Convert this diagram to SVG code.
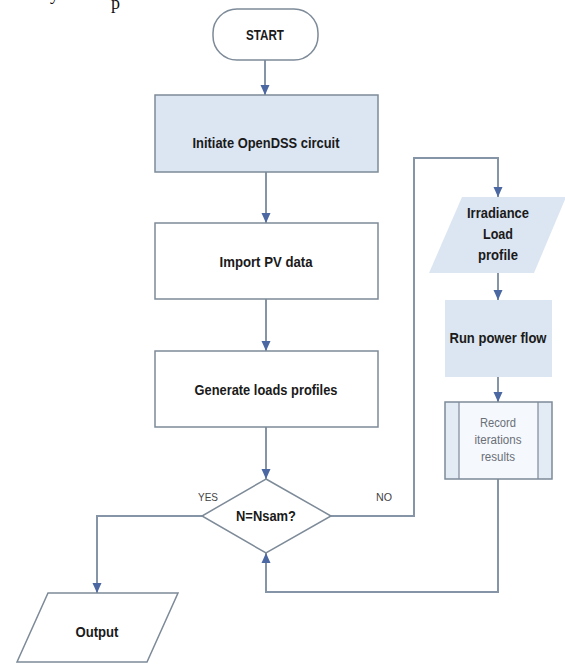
<svg xmlns="http://www.w3.org/2000/svg" width="565" height="671" viewBox="0 0 565 671">
  <style>
    .box { stroke: #7d8a98; stroke-width: 1.5; fill: #ffffff; }
    .blue { fill: #dce6f2; }
    .edge { fill: none; stroke: #8594a6; stroke-width: 2; }
    .lbl { font-family: "Liberation Sans", Arial, sans-serif; font-weight: bold; font-size: 15px; fill: #1a1a1a; text-anchor: middle; }
    .small { font-family: "Liberation Sans", Arial, sans-serif; font-size: 11px; fill: #444; text-anchor: middle; }
    .note { font-family: "Liberation Sans", Arial, sans-serif; font-size: 12px; fill: #6a6f78; text-anchor: middle; }
    .serif { font-family: "Liberation Serif", "Times New Roman", serif; font-size: 18px; fill: #111; }
  </style>
  <defs>
    <marker id="arrow" markerUnits="userSpaceOnUse" markerWidth="10" markerHeight="10" refX="10" refY="5" orient="auto">
      <path d="M0,0.5 L10,5 L0,9.5 z" fill="#4c68a3"/>
    </marker>
  </defs>

  <rect width="565" height="671" fill="#ffffff"/>

  <!-- tail of the preceding text line -->
  <g id="page-text">
    <text class="serif" x="50" y="0">y</text>
    <text class="serif" x="111" y="9">p</text>
  </g>

  <!-- connectors -->
  <g id="connectors">
    <line class="edge" x1="265" y1="60" x2="265" y2="95" marker-end="url(#arrow)"/>
    <line class="edge" x1="266" y1="172" x2="266" y2="223" marker-end="url(#arrow)"/>
    <line class="edge" x1="266" y1="299" x2="266" y2="351" marker-end="url(#arrow)"/>
    <line class="edge" x1="266" y1="427" x2="266" y2="479" marker-end="url(#arrow)"/>
    <!-- YES branch -->
    <polyline class="edge" points="202,516 97,516 97,593" marker-end="url(#arrow)"/>
    <!-- NO branch -->
    <polyline class="edge" points="331,516 414,516 414,158 498,158 498,197" marker-end="url(#arrow)"/>
    <line class="edge" x1="498" y1="273" x2="498" y2="300" marker-end="url(#arrow)"/>
    <line class="edge" x1="498" y1="377" x2="498" y2="402" marker-end="url(#arrow)"/>
    <!-- loop back to decision -->
    <polyline class="edge" points="498,479 498,592 266,592 266,553" marker-end="url(#arrow)"/>
  </g>

  <g id="start">
    <rect class="box" x="213" y="9" width="105" height="51" rx="24" ry="24"/>
    <text class="lbl" x="265" y="40" textLength="38" lengthAdjust="spacingAndGlyphs">START</text>
  </g>

  <g id="init-circuit">
    <rect class="box blue" x="155" y="95" width="223" height="77"/>
    <text class="lbl" x="266" y="148" textLength="147" lengthAdjust="spacingAndGlyphs">Initiate OpenDSS circuit</text>
  </g>

  <g id="import-pv">
    <rect class="box" x="155" y="223" width="223" height="76"/>
    <text class="lbl" x="266" y="267" textLength="93" lengthAdjust="spacingAndGlyphs">Import PV data</text>
  </g>

  <g id="gen-loads">
    <rect class="box" x="155" y="351" width="223" height="76"/>
    <text class="lbl" x="266" y="395" textLength="143" lengthAdjust="spacingAndGlyphs">Generate loads profiles</text>
  </g>

  <g id="decision">
    <polygon class="box" points="266,479 331,516 266,553 202,516"/>
    <text class="lbl" x="266" y="521" textLength="60" lengthAdjust="spacingAndGlyphs">N=Nsam?</text>
    <text class="small" x="208" y="501" textLength="20" lengthAdjust="spacingAndGlyphs">YES</text>
    <text class="small" x="384" y="501" textLength="16" lengthAdjust="spacingAndGlyphs">NO</text>
  </g>

  <g id="output">
    <polygon class="box" points="48,593 178,593 147,662 17,662"/>
    <text class="lbl" x="97" y="637" textLength="43" lengthAdjust="spacingAndGlyphs">Output</text>
  </g>

  <g id="irradiance">
    <polygon class="blue" points="462,197 566,197 534,273 429,273"/>
    <text class="lbl" x="498" y="218" textLength="62" lengthAdjust="spacingAndGlyphs">Irradiance</text>
    <text class="lbl" x="498" y="239" textLength="30" lengthAdjust="spacingAndGlyphs">Load</text>
    <text class="lbl" x="498" y="260" textLength="40" lengthAdjust="spacingAndGlyphs">profile</text>
  </g>

  <g id="power-flow">
    <rect class="blue" x="445" y="300" width="107" height="77"/>
    <text class="lbl" x="498" y="343" textLength="97" lengthAdjust="spacingAndGlyphs">Run power flow</text>
  </g>

  <g id="record">
    <rect x="445" y="402" width="107" height="77" fill="#f5f8fc"/>
    <rect x="445" y="402" width="14" height="77" fill="#e3ebf5"/>
    <rect x="538" y="402" width="14" height="77" fill="#e3ebf5"/>
    <rect x="445" y="402" width="107" height="77" fill="none" stroke="#7d8a98" stroke-width="1.5"/>
    <line x1="459" y1="402" x2="459" y2="479" stroke="#7d8a98" stroke-width="1.2"/>
    <line x1="538" y1="402" x2="538" y2="479" stroke="#7d8a98" stroke-width="1.2"/>
    <text class="note" x="498" y="427" textLength="36" lengthAdjust="spacingAndGlyphs">Record</text>
    <text class="note" x="498" y="444" textLength="47" lengthAdjust="spacingAndGlyphs">iterations</text>
    <text class="note" x="498" y="461" textLength="34" lengthAdjust="spacingAndGlyphs">results</text>
  </g>
</svg>
